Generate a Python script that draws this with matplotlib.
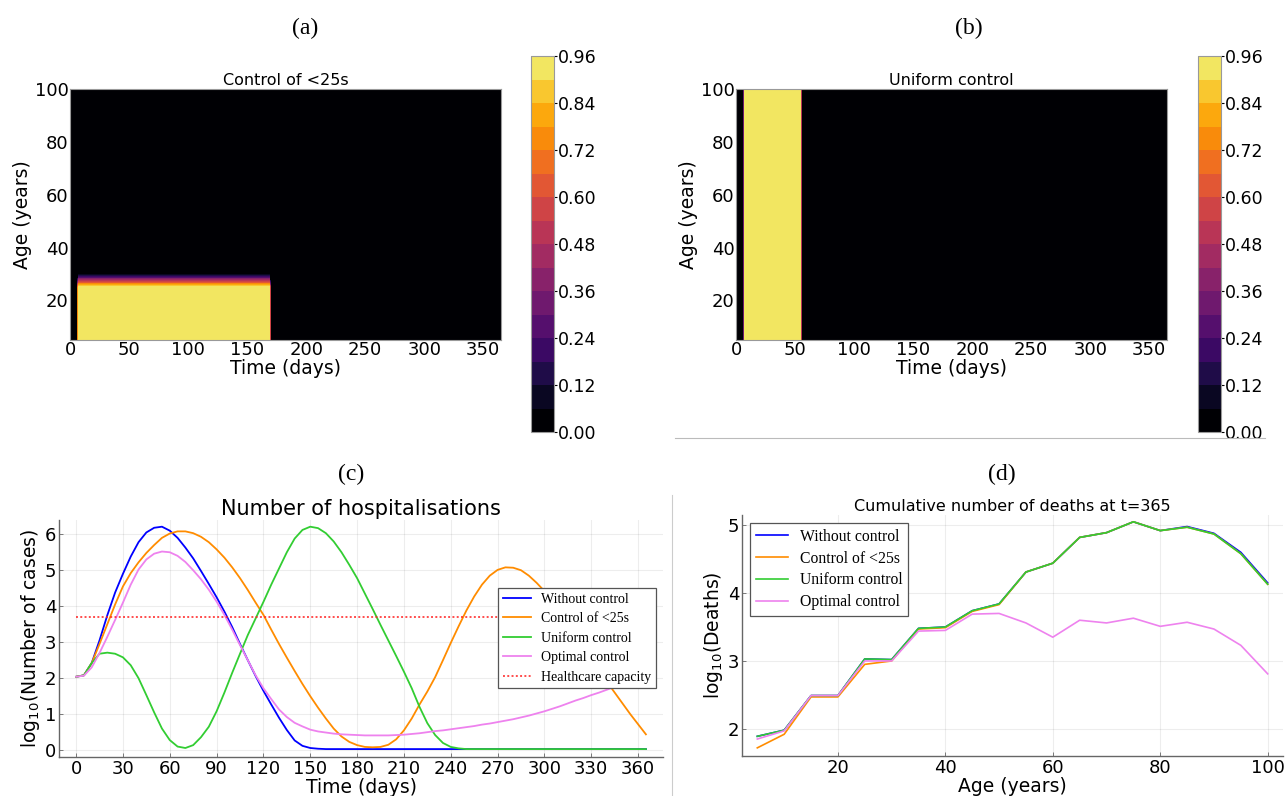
import numpy as np
import matplotlib
matplotlib.use("Agg")
import matplotlib.pyplot as plt
from matplotlib.colors import ListedColormap, Normalize
from matplotlib.lines import Line2D

# ---- panels (a), (b): control heatmaps ----
ages = np.arange(5, 101, 5)
days = np.arange(0, 366, 1)
control_level = 0.95
u25_age_max = 25
u25_start, u25_end = 7, 169
uniform_start, uniform_end = 7, 55
cbar_levels = np.linspace(0, 0.96, 17)
cbar_ticks = np.linspace(0, 0.96, 9)

# ---- panel (c): hospitalisations (log10), every 5 days ----
t_hosp = np.arange(0, 366, 5)
hosp_none = [2.04, 2.08, 2.42, 3.05, 3.75, 4.38, 4.90, 5.38, 5.78, 6.05, 6.18, 6.21,
             6.10, 5.90, 5.63, 5.33, 4.98, 4.62, 4.25, 3.85, 3.42, 2.95, 2.50, 2.06,
             1.65, 1.27, 0.90, 0.56, 0.27, 0.12, 0.06, 0.04] + [0.03] * 42
hosp_u25 = [2.04, 2.08, 2.42, 2.95, 3.50, 4.05, 4.55, 4.92, 5.22, 5.48, 5.70, 5.90,
            6.02, 6.08, 6.08, 6.03, 5.93, 5.78, 5.58, 5.35, 5.08, 4.78, 4.45, 4.10,
            3.76, 3.35, 2.95, 2.57, 2.20, 1.84, 1.50, 1.18, 0.88, 0.60, 0.38, 0.23,
            0.14, 0.09, 0.08, 0.09, 0.15, 0.30, 0.55, 0.88, 1.27, 1.63, 2.03, 2.50,
            2.98, 3.44, 3.88, 4.27, 4.60, 4.85, 5.01, 5.08, 5.07, 5.00, 4.85, 4.65,
            4.42, 4.14, 3.84, 3.52, 3.20, 2.87, 2.54, 2.21, 1.90, 1.60, 1.30, 1.00,
            0.72, 0.44]
hosp_uniform = [2.04, 2.08, 2.42, 2.68, 2.71, 2.68, 2.58, 2.36, 2.00, 1.53, 1.05, 0.60,
                0.28, 0.10, 0.06, 0.14, 0.36, 0.65, 1.08, 1.60, 2.15, 2.68, 3.20, 3.66,
                4.12, 4.60, 5.05, 5.50, 5.88, 6.12, 6.21, 6.17, 6.03, 5.80, 5.50, 5.15,
                4.78, 4.35, 3.92, 3.48, 3.05, 2.62, 2.18, 1.72, 1.20, 0.75, 0.42, 0.20,
                0.09, 0.05, 0.03] + [0.03] * 23
hosp_optimal = [2.04, 2.07, 2.30, 2.70, 3.15, 3.62, 4.10, 4.60, 5.02, 5.30, 5.46, 5.52,
                5.50, 5.40, 5.23, 5.00, 4.75, 4.46, 4.13, 3.76, 3.35, 2.92, 2.50, 2.08,
                1.72, 1.42, 1.13, 0.92, 0.76, 0.66, 0.57, 0.52, 0.49, 0.46, 0.44, 0.43,
                0.42, 0.41, 0.41, 0.41, 0.41, 0.42, 0.43, 0.45, 0.47, 0.50, 0.53, 0.55,
                0.58, 0.61, 0.64, 0.67, 0.71, 0.74, 0.78, 0.82, 0.86, 0.91, 0.96, 1.02,
                1.08, 1.15, 1.22, 1.30, 1.38, 1.45, 1.53, 1.60, 1.68, 1.76, 1.84, 1.92,
                2.00, 2.08]
capacity = 3.7

# ---- panel (d): cumulative deaths (log10) by age ----
death_ages = np.arange(5, 101, 5)
deaths_none = [1.89, 1.98, 2.49, 2.49, 3.03, 3.02, 3.48, 3.50, 3.74, 3.84,
               4.31, 4.44, 4.82, 4.89, 5.05, 4.92, 4.98, 4.88, 4.60, 4.15]
deaths_u25 = [1.72, 1.92, 2.47, 2.47, 2.95, 3.00, 3.47, 3.49, 3.73, 3.83,
              4.31, 4.44, 4.82, 4.89, 5.05, 4.92, 4.97, 4.87, 4.58, 4.13]
deaths_uniform = [1.89, 1.98, 2.49, 2.49, 3.03, 3.02, 3.48, 3.50, 3.74, 3.84,
                  4.31, 4.44, 4.82, 4.89, 5.05, 4.92, 4.97, 4.87, 4.58, 4.13]
deaths_optimal = [1.85, 1.97, 2.49, 2.49, 3.00, 3.00, 3.44, 3.45, 3.69, 3.70,
                  3.56, 3.35, 3.60, 3.56, 3.63, 3.51, 3.57, 3.47, 3.23, 2.81]

names = ['Without control', 'Control of <25s', 'Uniform control', 'Optimal control']
colors = ['#0000ff', '#ff8c00', '#32cd32', '#ee82ee']

W, H = 1287, 796


def rect(l, r, top, bot):
    return [l / W, 1 - bot / H, (r - l) / W, (bot - top) / H]


fig = plt.figure(figsize=(W / 100, H / 100), dpi=100)
cmap = ListedColormap(plt.cm.inferno(np.linspace(0, 0.93, 16)))
norm = Normalize(0, 0.96)
tick_fs = 13


def heat(ax_r, cax_r, Z, title):
    ax = fig.add_axes(ax_r)
    cs = ax.contourf(days, ages, Z, levels=cbar_levels, cmap=cmap, norm=norm)
    ax.set_xlim(0, 365)
    ax.set_ylim(5, 100)
    ax.set_xticks(np.arange(0, 351, 50))
    ax.set_yticks([20, 40, 60, 80, 100])
    ax.tick_params(length=0, labelsize=tick_fs, pad=1)
    for s in ax.spines.values():
        s.set_color('#999999')
        s.set_linewidth(0.8)
    ax.set_title(title, fontsize=11.5, pad=3)
    ax.set_xlabel('Time (days)', fontsize=13.5, labelpad=0)
    ax.set_ylabel('Age (years)', fontsize=13.5, labelpad=2)
    cax = fig.add_axes(cax_r)
    cb = fig.colorbar(cs, cax=cax, ticks=cbar_ticks, format='%.2f')
    cb.outline.set_edgecolor('#999999')
    cb.ax.tick_params(length=2, labelsize=12.5, pad=1)
    return ax


Z_u25 = np.zeros((len(ages), len(days)))
Z_u25[np.ix_(ages <= u25_age_max, (days >= u25_start) & (days <= u25_end))] = control_level
Z_uni = np.zeros((len(ages), len(days)))
Z_uni[:, (days >= uniform_start) & (days <= uniform_end)] = control_level

heat(rect(70, 501, 89, 340), rect(531, 554, 56, 432), Z_u25, 'Control of <25s')
heat(rect(736, 1167, 89, 340), rect(1198, 1221, 56, 432), Z_uni, 'Uniform control')


def line_axes(ax):
    for s in ['top', 'right']:
        ax.spines[s].set_visible(False)
    for s in ['left', 'bottom']:
        ax.spines[s].set_color('#666666')
        ax.spines[s].set_linewidth(1.0)
    ax.grid(True, color='#000000', alpha=0.07, linewidth=0.8)
    ax.tick_params(direction='in', length=3, width=0.6, color='#666666',
                   labelsize=tick_fs, pad=2)


def style_legend(leg):
    leg.get_frame().set_edgecolor('#555555')
    leg.get_frame().set_linewidth(0.9)


# ---- (c) ----
axc = fig.add_axes(rect(59, 663, 519.5, 757))
for y, c, n in zip([hosp_none, hosp_u25, hosp_uniform, hosp_optimal], colors, names):
    axc.plot(t_hosp, y, color=c, lw=1.3, label=n)
axc.plot([0, 365], [capacity, capacity], color='#ff2020', lw=1.4, alpha=0.8,
         linestyle=(0, (1, 1.2)), label='Healthcare capacity')
axc.set_xlim(-10.95, 375.95)
axc.set_ylim(-0.19, 6.41)
axc.set_xticks(np.arange(0, 361, 30))
axc.set_yticks(np.arange(0, 7, 1))
line_axes(axc)
axc.set_title('Number of hospitalisations', fontsize=15, pad=3)
axc.set_xlabel('Time (days)', fontsize=13.5, labelpad=0)
axc.set_ylabel(r'log$_{10}$(Number of cases)', fontsize=13.5, labelpad=2)
style_legend(axc.legend(loc='upper left', bbox_to_anchor=(0.727, 0.713), borderaxespad=0,
                        prop={'family': 'Liberation Serif', 'size': 10}, handlelength=2.0,
                        handletextpad=0.72, labelspacing=0.47, borderpad=0.35,
                        fancybox=False, framealpha=1))

# ---- (d) ----
axd = fig.add_axes(rect(742, 1283, 515, 756))
for y, c, n in zip([deaths_none, deaths_u25, deaths_uniform, deaths_optimal], colors, names):
    axd.plot(death_ages, y, color=c, lw=1.2, label=n)
axd.set_xlim(2.15, 102.85)
axd.set_ylim(1.6, 5.15)
axd.set_xticks([20, 40, 60, 80, 100])
axd.set_yticks([2, 3, 4, 5])
line_axes(axd)
axd.set_title('Cumulative number of deaths at t=365', fontsize=11.5, pad=3)
axd.set_xlabel('Age (years)', fontsize=13.5, labelpad=0)
axd.set_ylabel(r'log$_{10}$(Deaths)', fontsize=13.5, labelpad=2)
style_legend(axd.legend(loc='upper left', bbox_to_anchor=(0.0153, 0.9655), borderaxespad=0,
                        prop={'family': 'Liberation Serif', 'size': 11.3}, handlelength=2.05,
                        handletextpad=0.75, labelspacing=0.37, borderpad=0.35,
                        fancybox=False, framealpha=1))

# ---- sub-figure labels and separators ----
for lab, x, y in [('(a)', 305, 28), ('(b)', 969, 28), ('(c)', 351, 474), ('(d)', 1002, 474)]:
    fig.text(x / W, 1 - y / H, lab, ha='center', va='center',
             family='Liberation Serif', fontsize=17)
fig.add_artist(Line2D([675 / W, 1265 / W], [1 - 438 / H] * 2, color='#bbbbbb', lw=0.8))
fig.add_artist(Line2D([672 / W] * 2, [0, 1 - 495 / H], color='#cccccc', lw=0.8))

fig.savefig('out.png', dpi=100)
